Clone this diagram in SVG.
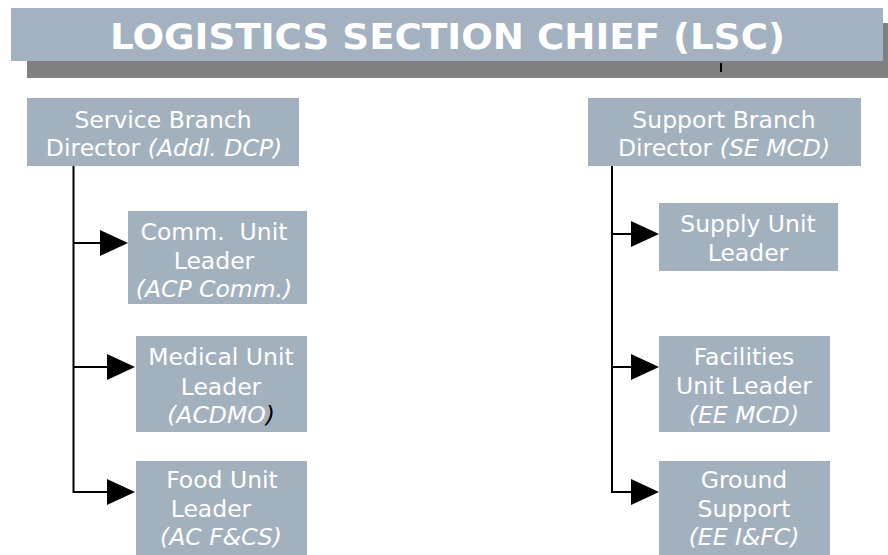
<svg xmlns="http://www.w3.org/2000/svg" width="888" height="555" viewBox="0 0 888 555">
<style>
.box{fill:#A3B1BF}
.t{font-family:"DejaVu Sans","Verdana",sans-serif;font-size:23.5px;fill:#FFFFFF;text-anchor:middle}
.i{font-style:italic}
.ln{stroke:#000;stroke-width:2;fill:none}
</style>
<defs>
<marker id="ah" markerUnits="userSpaceOnUse" markerWidth="30" markerHeight="26" refX="2" refY="13" orient="auto" viewBox="0 0 30 26">
<path d="M0,0 L28,13 L0,26 Z" fill="#000"/>
</marker>
</defs>
<rect width="888" height="555" fill="#FFFFFF"/>
<g id="title">
<rect x="27" y="23" width="861" height="55" fill="#808080"/>
<rect x="11" y="8" width="872" height="53" fill="#A3B1C0"/>
<rect x="720" y="63" width="2" height="9" fill="#000"/>
<text x="110" y="48.5" font-family="'DejaVu Sans',Verdana,sans-serif" font-weight="bold" font-size="35" fill="#FFFFFF" textLength="675" lengthAdjust="spacingAndGlyphs">LOGISTICS SECTION CHIEF (LSC)</text>
</g>
<g id="connectors">
<line class="ln" x1="73.5" y1="166" x2="73.5" y2="493"/>
<line class="ln" x1="73.5" y1="243" x2="102" y2="243" marker-end="url(#ah)"/>
<line class="ln" x1="73.5" y1="367" x2="109" y2="367" marker-end="url(#ah)"/>
<line class="ln" x1="73.5" y1="492" x2="109" y2="492" marker-end="url(#ah)"/>
<line class="ln" x1="612" y1="166" x2="612" y2="493"/>
<line class="ln" x1="612" y1="234" x2="633" y2="234" marker-end="url(#ah)"/>
<line class="ln" x1="612" y1="367" x2="633" y2="367" marker-end="url(#ah)"/>
<line class="ln" x1="612" y1="492" x2="633" y2="492" marker-end="url(#ah)"/>
</g>
<g id="service-branch">
<rect class="box" x="27" y="98" width="272" height="68"/>
<text class="t" x="163" y="128">Service Branch</text>
<text class="t" x="164" y="156">Director <tspan class="i">(Addl. DCP)</tspan></text>
</g>
<g id="comm-unit">
<rect class="box" x="128" y="211" width="179" height="93"/>
<text class="t" x="214" y="240" xml:space="preserve">Comm.  Unit</text>
<text class="t" x="214" y="269">Leader</text>
<text class="t i" x="214" y="297">(ACP Comm.)</text>
</g>
<g id="medical-unit">
<rect class="box" x="136" y="336" width="171" height="96"/>
<text class="t" x="221" y="365">Medical Unit</text>
<text class="t" x="221" y="395">Leader</text>
<text class="t i" x="221" y="423">(ACDMO<tspan fill="#000">)</tspan></text>
</g>
<g id="food-unit">
<rect class="box" x="136" y="461" width="171" height="94"/>
<text class="t" x="222" y="488">Food Unit</text>
<text class="t" x="211" y="517">Leader</text>
<text class="t i" x="221" y="545">(AC F&amp;CS)</text>
</g>
<g id="support-branch">
<rect class="box" x="588" y="98" width="273" height="68"/>
<text class="t" x="724" y="128">Support Branch</text>
<text class="t" x="724" y="156">Director <tspan class="i">(SE MCD)</tspan></text>
</g>
<g id="supply-unit">
<rect class="box" x="659" y="203" width="179" height="68"/>
<text class="t" x="748" y="232">Supply Unit</text>
<text class="t" x="748" y="261">Leader</text>
</g>
<g id="facilities-unit">
<rect class="box" x="659" y="336" width="171" height="96"/>
<text class="t" x="744" y="365">Facilities</text>
<text class="t" x="744" y="394">Unit Leader</text>
<text class="t i" x="744" y="423">(EE MCD)</text>
</g>
<g id="ground-support">
<rect class="box" x="659" y="461" width="171" height="94"/>
<text class="t" x="744" y="488">Ground</text>
<text class="t" x="744" y="517">Support</text>
<text class="t i" x="744" y="545">(EE I&amp;FC)</text>
</g>
</svg>
